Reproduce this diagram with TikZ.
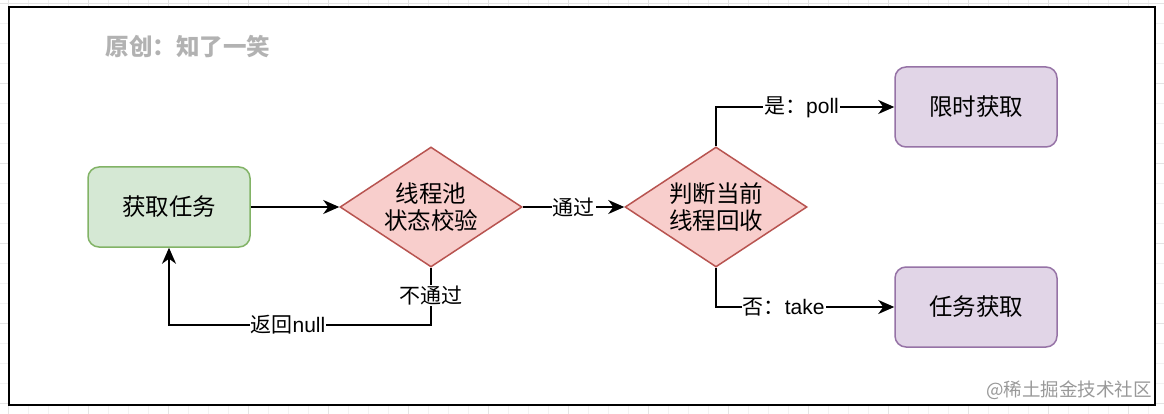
\documentclass[tikz,border=0pt]{standalone}
\usepackage{fontspec}
\setmainfont{Liberation Sans}
\newfontfamily\cjk{Noto Sans CJK SC}
\usetikzlibrary{shapes.geometric,arrows.meta}
\definecolor{greenfill}{HTML}{D5E8D4}
\definecolor{greenline}{HTML}{82B366}
\definecolor{redfill}{HTML}{F8CECC}
\definecolor{redline}{HTML}{B85450}
\definecolor{purplefill}{HTML}{E1D5E7}
\definecolor{purpleline}{HTML}{9673A6}
\definecolor{gridminor}{HTML}{F2F2F2}
\definecolor{gridmajor}{HTML}{E4E4E4}
\begin{document}
\begin{tikzpicture}[x=1pt,y=-1pt,
  box/.style={rectangle, rounded corners=11pt, minimum width=162pt, minimum height=80pt, line width=1.5pt, font=\fontsize{23.5}{27}\selectfont\cjk},
  decision/.style={diamond, aspect=1.52, minimum width=182pt, minimum height=120pt, inner sep=0pt, line width=1.5pt, fill=redfill, draw=redline, align=center, font=\fontsize{23.5}{27}\selectfont\cjk},
  arr/.style={line width=1.8pt, -{Stealth[length=16pt,width=14pt,inset=5pt]}},
  lbl/.style={fill=white, inner sep=1pt, font=\fontsize{21}{24}\selectfont}
]
\useasboundingbox (0,0) rectangle (1164,414);
% background grid
\foreach \x in {8,28,...,1164} \draw[gridminor, line width=0.8pt] (\x,0) -- (\x,414);
\foreach \y in {3,23,...,414} \draw[gridminor, line width=0.8pt] (0,\y) -- (1164,\y);
\foreach \x in {8,88,...,1164} \draw[gridmajor, line width=0.8pt] (\x,0) -- (\x,414);
\foreach \y in {3,83,...,414} \draw[gridmajor, line width=0.8pt] (0,\y) -- (1164,\y);
\draw[fill=white, line width=2pt] (9,7) rectangle (1155,405);

\node[font=\fontsize{23.5}{27}\selectfont\cjk\bfseries, text=black!30] (title) at (188,47) {原创：知了一笑};
\node[font=\fontsize{18.5}{22}\selectfont\cjk, text=black!40] (wm) at (1069,390) {@稀土掘金技术社区};

\node[box, fill=greenfill, draw=greenline] (task) at (169,207) {获取任务};
\node[decision] (d1) at (431,207) {线程池\\状态校验};
\node[decision] (d2) at (716,207) {判断当前\\线程回收};
\node[box, fill=purplefill, draw=purpleline] (t1) at (976,107) {限时获取};
\node[box, fill=purplefill, draw=purpleline] (t2) at (976,307) {任务获取};
\coordinate (lp) at (431,325);

\draw[arr] (task) -- (d1);
\draw[arr] (d1) -- node[lbl] {\cjk 通过} (d2);
\draw[arr] (d2.north) |- node[lbl, pos=0.74] {{\cjk 是：}poll} (t1.west);
\draw[arr] (d2.south) |- node[lbl, pos=0.69] {{\cjk 否：}take} (t2.west);
\draw[arr] (d1.south) -- node[lbl, pos=0.48] {\cjk 不通过} (lp) -| node[lbl, pos=0.273] {{\cjk 返回}null} (task.south);
\end{tikzpicture}
\end{document}
